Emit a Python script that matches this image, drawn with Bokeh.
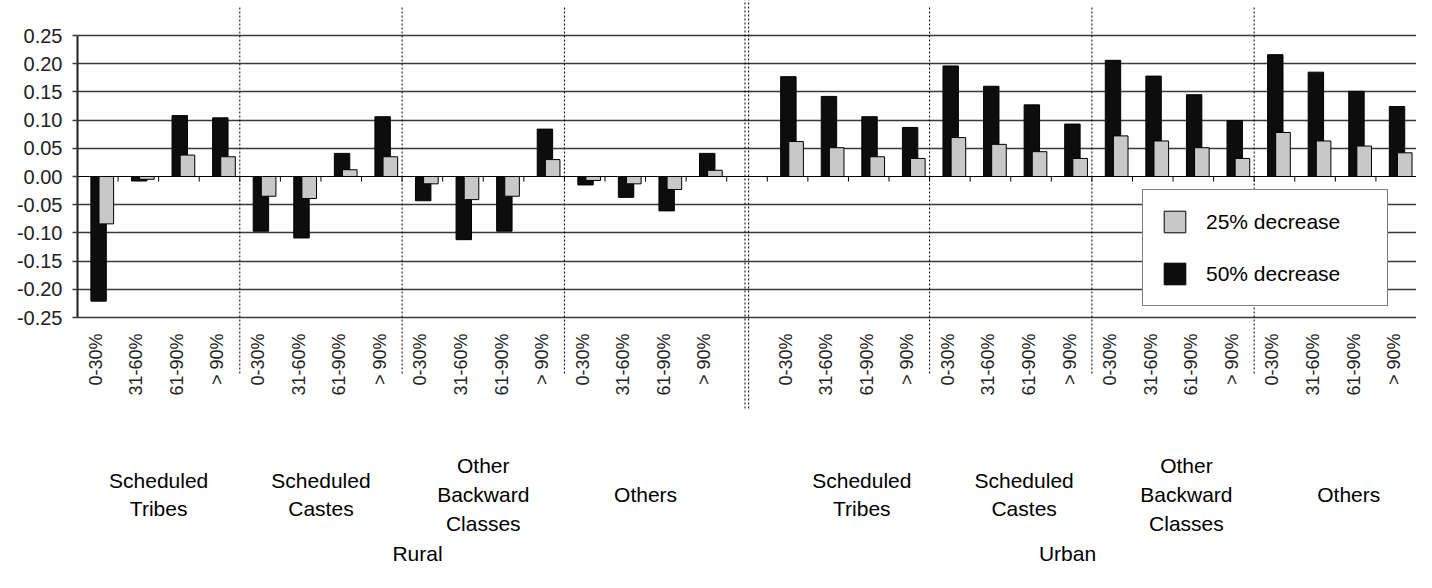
import numpy as np
from bokeh.plotting import figure
from bokeh.models import (Range1d, FixedTicker, PrintfTickFormatter, ColumnDataSource,
                          Legend, LegendItem)
from bokeh.core.properties import value
from bokeh.embed import file_html
from bokeh.resources import INLINE

# ---------------- data ----------------
categories = ["0-30%", "31-60%", "61-90%", "> 90%"]
groups = ["Scheduled\nTribes", "Scheduled\nCastes", "Other\nBackward\nClasses", "Others"]
areas = ["Rural", "Urban"]
series_names = ["25% decrease", "50% decrease"]

dec25_rural = [-0.084, -0.005, 0.038, 0.035,
               -0.035, -0.039, 0.012, 0.035,
               -0.013, -0.041, -0.035, 0.030,
               -0.007, -0.013, -0.023, 0.011]
dec50_rural = [-0.221, -0.008, 0.108, 0.104,
               -0.097, -0.109, 0.041, 0.106,
               -0.043, -0.112, -0.097, 0.084,
               -0.015, -0.037, -0.061, 0.041]
dec25_urban = [0.062, 0.051, 0.035, 0.032,
               0.069, 0.057, 0.044, 0.032,
               0.072, 0.063, 0.051, 0.032,
               0.078, 0.063, 0.054, 0.042]
dec50_urban = [0.177, 0.142, 0.106, 0.087,
               0.196, 0.160, 0.127, 0.093,
               0.206, 0.178, 0.145, 0.099,
               0.216, 0.185, 0.151, 0.124]

y_ticks = [-0.25, -0.20, -0.15, -0.10, -0.05, 0.00, 0.05, 0.10, 0.15, 0.20, 0.25]

# ---------------- layout ----------------
W, H = 1416, 572
LEFT = 77
PXY = 564.0                      # pixels per data unit on y
Y_TOP = 0.25 + 35 / PXY
Y_BOT = Y_TOP - H / PXY
N_SLOTS = 33                     # 16 rural + 1 gap + 16 urban


def ys(py):
    """pixel row in the figure -> data y"""
    return Y_TOP - py / PXY


FONT = "Liberation Sans"

p = figure(width=W, height=H, output_backend="svg", toolbar_location=None,
           x_range=Range1d(0, N_SLOTS), y_range=Range1d(Y_BOT, Y_TOP),
           x_axis_type=None,
           min_border_left=LEFT, min_border_right=0, min_border_top=0, min_border_bottom=0)
p.outline_line_color = None
p.background_fill_color = "white"
p.border_fill_color = "white"

# y axis
p.yaxis.ticker = FixedTicker(ticks=y_ticks)
p.yaxis.formatter = PrintfTickFormatter(format="%.2f")
p.yaxis.bounds = (-0.25, 0.25)
p.yaxis.major_tick_out = 5
p.yaxis.major_tick_in = 0
p.yaxis.minor_tick_out = 0
p.yaxis.minor_tick_in = 0
p.yaxis.axis_line_color = "#1e1e1e"
p.yaxis.axis_line_width = 2
p.yaxis.major_tick_line_color = "#3a3a3a"
p.yaxis.major_tick_line_width = 1.6
p.yaxis.major_label_text_font = FONT
p.yaxis.major_label_text_font_size = "20px"
p.yaxis.major_label_text_color = "#222222"
p.yaxis.major_label_standoff = 10

p.ygrid.ticker = FixedTicker(ticks=[t for t in y_ticks if t != 0])
p.ygrid.grid_line_color = "#3a3a3a"
p.ygrid.grid_line_width = 1.6

# bars
slot_idx = list(range(16)) + list(range(17, 33))
src = ColumnDataSource(dict(
    x50=[i + 0.52 for i in slot_idx],
    x25=[i + 0.71 for i in slot_idx],
    v50=dec50_rural + dec50_urban,
    v25=dec25_rural + dec25_urban,
))
r50 = p.vbar(x="x50", top="v50", bottom=0, width=0.38, source=src,
             fill_color="#0d0d0d", line_color="black", line_width=1)
r25 = p.vbar(x="x25", top="v25", bottom=0, width=0.36, source=src,
             fill_color="#c8c8c8", line_color="black", line_width=1)

# zero (category) axis line + tick marks
p.segment(x0=[0], y0=[0], x1=[N_SLOTS], y1=[0], line_color="black", line_width=1)
tick_x = list(range(1, N_SLOTS + 1))
p.segment(x0=tick_x, y0=0, x1=tick_x, y1=-0.009, line_color="black", line_width=1)

# dotted group separators
sep_x = [4, 8, 12, 21, 25, 29]
p.segment(x0=sep_x, y0=ys(7), x1=sep_x, y1=ys(373), line_color="black",
          line_width=1, line_dash="2 2")
area_sep = [16.45, 16.54]
p.segment(x0=area_sep, y0=ys(-2), x1=area_sep, y1=ys(410), line_color="black",
          line_width=1, line_dash="2 2")

# category tick labels (rotated)
p.text(x=[i + 0.45 for i in slot_idx], y=ys(333),
       text=categories * 8, angle=np.pi / 2,
       text_align="right", text_baseline="middle",
       text_font=value(FONT), text_font_size="18px", text_color="#222222")

# group labels
grp_x = [4 * g + 2 for g in range(4)] + [17 + 4 * g + 2.33 for g in range(4)]
p.text(x=grp_x, y=ys(494), text=groups * 2,
       text_align="center", text_baseline="middle", text_line_height=1.24,
       text_font=value(FONT), text_font_size="21px", text_color="black")

# area labels
p.text(x=[8.38, 24.4], y=ys(553), text=areas,
       text_align="center", text_baseline="middle",
       text_font=value(FONT), text_font_size="21px", text_color="black")

# legend
legend = Legend(items=[LegendItem(label=series_names[0], renderers=[r25]),
                       LegendItem(label=series_names[1], renderers=[r50])],
                location=(1065, H - 306), padding=18, spacing=25,
                glyph_width=27, glyph_height=27, label_standoff=18,
                label_width=163, label_height=27,
                label_text_font=FONT, label_text_font_size="21px",
                label_text_color="black",
                border_line_color="black", border_line_width=1.5,
                background_fill_color="white", background_fill_alpha=1.0,
                margin=0)
p.add_layout(legend)

open("out.html", "w").write(file_html(p, INLINE))
